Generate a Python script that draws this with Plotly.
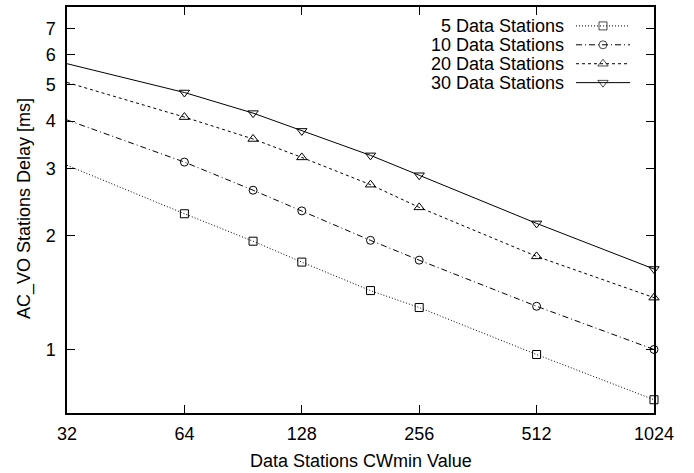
import plotly.graph_objects as go
import math

cw_values = [32, 64, 96, 128, 192, 256, 512, 1024]
delay_5 = [3.06, 2.28, 1.93, 1.70, 1.43, 1.29, 0.97, 0.737]
delay_10 = [4.03, 3.12, 2.63, 2.32, 1.94, 1.72, 1.30, 1.00]
delay_20 = [5.06, 4.10, 3.59, 3.21, 2.72, 2.37, 1.76, 1.37]
delay_30 = [5.67, 4.76, 4.20, 3.77, 3.25, 2.88, 2.15, 1.63]
series_names = ["5 Data Stations", "10 Data Stations", "20 Data Stations", "30 Data Stations"]
x_ticks = [32, 64, 128, 256, 512, 1024]
x_tick_labels = ["32", "64", "128", "256", "512", "1024"]
y_ticks = [1, 2, 3, 4, 5, 6, 7]
y_tick_labels = ["1", "2", "3", "4", "5", "6", "7"]

W, H = 694, 473
ML, MR, MT, MB = 67, 40, 5, 60
PW = W - ML - MR
PH = H - MT - MB

FONT = "Liberation Sans, Arial, Helvetica, sans-serif"
FS = 18

styles = [
    dict(dash="1px,2px", symbol="square-open", size=8),
    dict(dash="6px,3px,1px,3px", symbol="circle-open", size=8),
    dict(dash="3px,3px", symbol="triangle-up-open", size=9),
    dict(dash="solid", symbol="triangle-down-open", size=9),
]
series = [delay_5, delay_10, delay_20, delay_30]

fig = go.Figure()
for name, ys, st in zip(series_names, series, styles):
    fig.add_trace(go.Scatter(
        x=cw_values, y=ys, mode="lines+markers", name=name, showlegend=False,
        line=dict(color="black", width=1, dash=st["dash"]),
        marker=dict(symbol=st["symbol"], size=st["size"], color="black",
                    line=dict(color="black", width=1)),
        cliponaxis=False,
    ))

# custom gnuplot-style key (text left, sample right) on an overlay axis
def px_x(p):
    return (p - ML) / PW

def px_y(p):
    return (H - MB - p) / PH

key_rows = [24, 43, 62, 81]
for name, st, ry in zip(series_names, styles, key_rows):
    fig.add_trace(go.Scatter(
        x=[px_x(576), px_x(603), px_x(630)], y=[px_y(ry)] * 3,
        xaxis="x2", yaxis="y2", mode="lines+markers", showlegend=False,
        line=dict(color="black", width=1, dash=st["dash"]),
        marker=dict(symbol=st["symbol"], size=[0, st["size"], 0], color="black",
                    line=dict(color="black", width=1)),
        hoverinfo="skip",
    ))
    fig.add_annotation(x=px_x(566), y=px_y(ry), xref="paper", yref="paper",
                       text=name, showarrow=False, xanchor="right", yanchor="middle",
                       font=dict(family=FONT, size=FS, color="black"))

axis_common = dict(showline=True, linecolor="black", linewidth=1.5, mirror="allticks",
                   ticks="inside", ticklen=8, tickwidth=1, tickcolor="black",
                   showgrid=False, zeroline=False,
                   tickfont=dict(family=FONT, size=FS, color="black"))

fig.update_layout(
    width=W, height=H,
    margin=dict(l=ML, r=MR, t=MT, b=MB),
    paper_bgcolor="white", plot_bgcolor="white",
    showlegend=False,
    xaxis=dict(type="log", range=[math.log10(32), math.log10(1024)],
               tickvals=x_ticks, ticktext=x_tick_labels, ticklabelstandoff=4,
               **axis_common),
    yaxis=dict(type="log", range=[math.log10(0.68), math.log10(8.0)],
               tickvals=y_ticks, ticktext=y_tick_labels, ticklabelstandoff=6,
               **axis_common),
    xaxis2=dict(overlaying="x", range=[0, 1], visible=False, fixedrange=True),
    yaxis2=dict(overlaying="y", range=[0, 1], visible=False, fixedrange=True),
)

fig.add_annotation(x=0.5, y=px_y(461), xref="paper", yref="paper",
                   text="Data Stations CWmin Value", showarrow=False,
                   xanchor="center", yanchor="middle",
                   font=dict(family=FONT, size=FS, color="black"))
fig.add_annotation(x=px_x(24), y=px_y(208), xref="paper", yref="paper",
                   text="AC_VO Stations Delay [ms]", showarrow=False, textangle=-90,
                   xanchor="center", yanchor="middle",
                   font=dict(family=FONT, size=FS, color="black"))

fig.write_html("out.html")
